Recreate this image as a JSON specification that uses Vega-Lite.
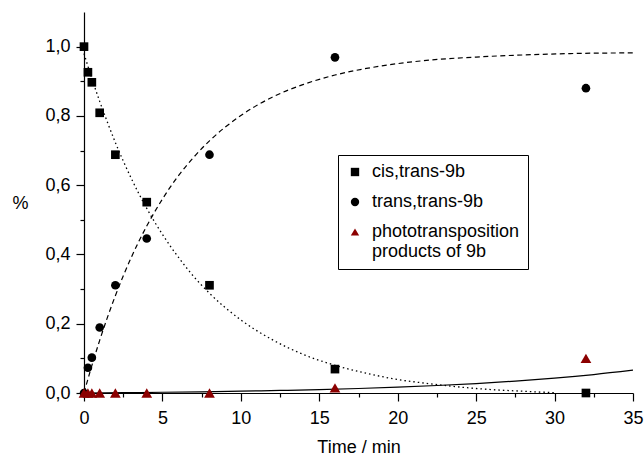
{
  "$schema": "https://vega.github.io/schema/vega-lite/v6.json",
  "width": 549,
  "height": 381,
  "autosize": "none",
  "padding": {"left": 84, "top": 12, "right": 11, "bottom": 63},
  "background": "white",
  "config": {
    "font": "Liberation Sans",
    "view": {"stroke": null},
    "axis": {
      "grid": false,
      "domainColor": "black",
      "domainWidth": 1.2,
      "tickColor": "black",
      "tickWidth": 1.2,
      "labelColor": "black",
      "titleColor": "black",
      "labelFontSize": 18,
      "titleFontSize": 18,
      "titleFontWeight": "normal",
      "labelFont": "Liberation Sans",
      "titleFont": "Liberation Sans"
    },
    "legend": {
      "labelFont": "Liberation Sans",
      "labelFontSize": 18,
      "labelColor": "black"
    }
  },
  "datasets": {
    "points": [
      {"t": 0, "y": 1.0, "series": "cis,trans-9b"},
      {"t": 0.25, "y": 0.926, "series": "cis,trans-9b"},
      {"t": 0.5, "y": 0.897, "series": "cis,trans-9b"},
      {"t": 1, "y": 0.809, "series": "cis,trans-9b"},
      {"t": 2, "y": 0.688, "series": "cis,trans-9b"},
      {"t": 4, "y": 0.551, "series": "cis,trans-9b"},
      {"t": 8, "y": 0.311, "series": "cis,trans-9b"},
      {"t": 16, "y": 0.069, "series": "cis,trans-9b"},
      {"t": 32, "y": 0.0, "series": "cis,trans-9b"},
      {"t": 0, "y": 0.0, "series": "trans,trans-9b"},
      {"t": 0.25, "y": 0.073, "series": "trans,trans-9b"},
      {"t": 0.5, "y": 0.102, "series": "trans,trans-9b"},
      {"t": 1, "y": 0.189, "series": "trans,trans-9b"},
      {"t": 2, "y": 0.311, "series": "trans,trans-9b"},
      {"t": 4, "y": 0.446, "series": "trans,trans-9b"},
      {"t": 8, "y": 0.688, "series": "trans,trans-9b"},
      {"t": 16, "y": 0.969, "series": "trans,trans-9b"},
      {"t": 32, "y": 0.88, "series": "trans,trans-9b"},
      {"t": 0, "y": 0.0, "series": "phototransposition products of 9b"},
      {"t": 0.25, "y": 0.0, "series": "phototransposition products of 9b"},
      {"t": 0.5, "y": 0.0, "series": "phototransposition products of 9b"},
      {"t": 1, "y": 0.0, "series": "phototransposition products of 9b"},
      {"t": 2, "y": 0.0, "series": "phototransposition products of 9b"},
      {"t": 4, "y": 0.0, "series": "phototransposition products of 9b"},
      {"t": 8, "y": 0.0, "series": "phototransposition products of 9b"},
      {"t": 16, "y": 0.015, "series": "phototransposition products of 9b"},
      {"t": 32, "y": 0.1, "series": "phototransposition products of 9b"}
    ],
    "curves": [
      {"curve": "trans", "t": 0, "y": 0},
      {"curve": "trans", "t": 0.5, "y": 0.079},
      {"curve": "trans", "t": 1, "y": 0.152},
      {"curve": "trans", "t": 1.5, "y": 0.219},
      {"curve": "trans", "t": 2, "y": 0.281},
      {"curve": "trans", "t": 3, "y": 0.39},
      {"curve": "trans", "t": 4, "y": 0.482},
      {"curve": "trans", "t": 5, "y": 0.56},
      {"curve": "trans", "t": 6, "y": 0.626},
      {"curve": "trans", "t": 7, "y": 0.681},
      {"curve": "trans", "t": 8, "y": 0.728},
      {"curve": "trans", "t": 10, "y": 0.801},
      {"curve": "trans", "t": 12, "y": 0.854},
      {"curve": "trans", "t": 14, "y": 0.891},
      {"curve": "trans", "t": 16, "y": 0.918},
      {"curve": "trans", "t": 18, "y": 0.937},
      {"curve": "trans", "t": 20, "y": 0.951},
      {"curve": "trans", "t": 22, "y": 0.961},
      {"curve": "trans", "t": 25, "y": 0.97},
      {"curve": "trans", "t": 28, "y": 0.976},
      {"curve": "trans", "t": 31, "y": 0.98},
      {"curve": "trans", "t": 35, "y": 0.982},
      {"curve": "cis", "t": 0, "y": 0.98},
      {"curve": "cis", "t": 0.5, "y": 0.908},
      {"curve": "cis", "t": 1, "y": 0.842},
      {"curve": "cis", "t": 1.5, "y": 0.781},
      {"curve": "cis", "t": 2, "y": 0.723},
      {"curve": "cis", "t": 3, "y": 0.621},
      {"curve": "cis", "t": 4, "y": 0.533},
      {"curve": "cis", "t": 5, "y": 0.458},
      {"curve": "cis", "t": 6, "y": 0.393},
      {"curve": "cis", "t": 7, "y": 0.336},
      {"curve": "cis", "t": 8, "y": 0.288},
      {"curve": "cis", "t": 10, "y": 0.211},
      {"curve": "cis", "t": 12, "y": 0.154},
      {"curve": "cis", "t": 14, "y": 0.111},
      {"curve": "cis", "t": 16, "y": 0.08},
      {"curve": "cis", "t": 18, "y": 0.057},
      {"curve": "cis", "t": 20, "y": 0.039},
      {"curve": "cis", "t": 22, "y": 0.027},
      {"curve": "cis", "t": 25, "y": 0.013},
      {"curve": "cis", "t": 28, "y": 0.005},
      {"curve": "cis", "t": 30, "y": 0.001},
      {"curve": "photo", "t": 0, "y": 0},
      {"curve": "photo", "t": 2.5, "y": 0.0009},
      {"curve": "photo", "t": 5, "y": 0.0021},
      {"curve": "photo", "t": 7.5, "y": 0.0035},
      {"curve": "photo", "t": 10, "y": 0.0052},
      {"curve": "photo", "t": 12.5, "y": 0.0073},
      {"curve": "photo", "t": 15, "y": 0.0099},
      {"curve": "photo", "t": 17.5, "y": 0.013},
      {"curve": "photo", "t": 20, "y": 0.0169},
      {"curve": "photo", "t": 22.5, "y": 0.0216},
      {"curve": "photo", "t": 25, "y": 0.0273},
      {"curve": "photo", "t": 27.5, "y": 0.0343},
      {"curve": "photo", "t": 30, "y": 0.0428},
      {"curve": "photo", "t": 32.5, "y": 0.0532},
      {"curve": "photo", "t": 35, "y": 0.0659}
    ]
  },
  "resolve": {"axis": {"x": "independent", "y": "independent"}},
  "layer": [
    {
      "data": {"name": "curves"},
      "transform": [{"filter": "datum.curve === 'trans'"}],
      "mark": {"type": "line", "color": "black", "strokeWidth": 1.2, "strokeDash": [5, 3.5], "interpolate": "monotone"},
      "encoding": {
        "x": {
          "field": "t",
          "type": "quantitative",
          "scale": {"domain": [0, 35], "nice": false, "zero": false},
          "axis": {
            "orient": "bottom",
            "title": null,
            "values": [2.5, 7.5, 12.5, 17.5, 22.5, 27.5, 32.5],
            "labels": false,
            "domain": false,
            "tickSize": 4
          }
        },
        "y": {
          "field": "y",
          "type": "quantitative",
          "scale": {"domain": [0, 1.1], "nice": false},
          "axis": {
            "orient": "left",
            "title": null,
            "values": [0.1, 0.3, 0.5, 0.7, 0.9],
            "labels": false,
            "domain": false,
            "tickSize": 4
          }
        }
      }
    },
    {
      "data": {"name": "curves"},
      "transform": [{"filter": "datum.curve === 'cis'"}],
      "mark": {"type": "line", "color": "black", "strokeWidth": 1.3, "strokeDash": [1.5, 3], "interpolate": "monotone"},
      "encoding": {
        "x": {"field": "t", "type": "quantitative", "axis": null},
        "y": {"field": "y", "type": "quantitative", "axis": null}
      }
    },
    {
      "data": {"name": "curves"},
      "transform": [{"filter": "datum.curve === 'photo'"}],
      "mark": {"type": "line", "color": "black", "strokeWidth": 1.2, "interpolate": "monotone"},
      "encoding": {
        "x": {"field": "t", "type": "quantitative", "axis": null},
        "y": {"field": "y", "type": "quantitative", "axis": null}
      }
    },
    {
      "data": {"name": "points"},
      "transform": [{"filter": "datum.series !== 'phototransposition products of 9b'"}],
      "mark": {"type": "point", "filled": true, "opacity": 1, "size": 75},
      "encoding": {
        "x": {
          "field": "t",
          "type": "quantitative",
          "axis": {
            "orient": "bottom",
            "title": "Time / min",
            "values": [0, 5, 10, 15, 20, 25, 30, 35],
            "tickSize": 8,
            "labelFlush": false,
            "labelOverlap": false,
            "labelPadding": 8,
            "titlePadding": 11
          }
        },
        "y": {
          "field": "y",
          "type": "quantitative",
          "axis": {
            "orient": "left",
            "title": "%",
            "values": [0, 0.2, 0.4, 0.6, 0.8, 1.0],
            "labelExpr": "replace(format(datum.value, '.1f'), '.', ',')",
            "tickSize": 8,
            "labelOverlap": false,
            "labelFlush": false,
            "labelPadding": 6,
            "titleAngle": 0,
            "titleAlign": "center",
            "titleBaseline": "middle",
            "titleX": -64,
            "titleY": 191
          }
        },
        "color": {
          "field": "series",
          "type": "nominal",
          "scale": {
            "domain": ["cis,trans-9b", "trans,trans-9b", "phototransposition products of 9b"],
            "range": ["black", "black", "#8B0000"]
          },
          "legend": {
            "title": null,
            "orient": "none",
            "legendX": 254,
            "legendY": 143,
            "strokeColor": "black",
            "fillColor": "white",
            "padding": 8,
            "symbolSize": 70,
            "rowPadding": 12,
            "labelOffset": 8,
            "labelExpr": "datum.label == 'phototransposition products of 9b' ? ['phototransposition', ' products of 9b'] : datum.label"
          }
        },
        "shape": {
          "field": "series",
          "type": "nominal",
          "scale": {
            "domain": ["cis,trans-9b", "trans,trans-9b", "phototransposition products of 9b"],
            "range": ["square", "circle", "triangle-up"]
          },
          "legend": {
            "title": null,
            "orient": "none",
            "legendX": 254,
            "legendY": 143,
            "strokeColor": "black",
            "fillColor": "white",
            "padding": 8,
            "symbolSize": 70,
            "rowPadding": 12,
            "labelOffset": 8,
            "labelExpr": "datum.label == 'phototransposition products of 9b' ? ['phototransposition', ' products of 9b'] : datum.label"
          }
        }
      }
    },
    {
      "data": {"name": "points"},
      "transform": [{"filter": "datum.series === 'phototransposition products of 9b'"}],
      "mark": {"type": "point", "filled": true, "opacity": 1, "size": 115},
      "encoding": {
        "x": {"field": "t", "type": "quantitative", "axis": null},
        "y": {"field": "y", "type": "quantitative", "axis": null},
        "color": {"field": "series", "type": "nominal"},
        "shape": {"field": "series", "type": "nominal"}
      }
    }
  ]
}
